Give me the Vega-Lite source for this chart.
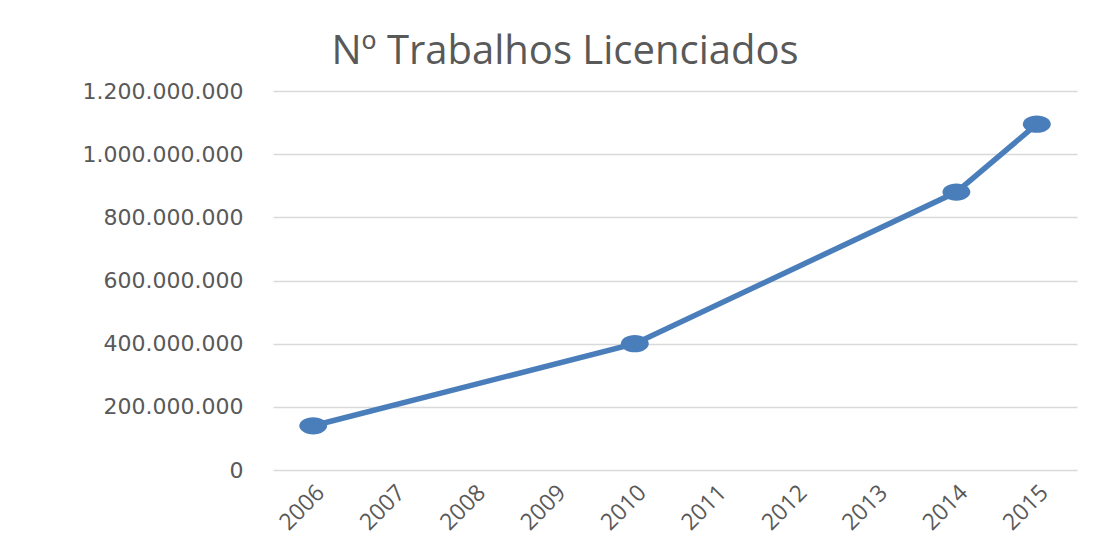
{
  "$schema": "https://vega.github.io/schema/vega-lite/v6.json",
  "autosize": "none",
  "width": 804,
  "height": 379,
  "padding": {"left": 273, "top": 91, "right": 33, "bottom": 68},
  "background": "white",
  "title": {
    "text": "Nº Trabalhos Licenciados",
    "anchor": "middle",
    "frame": "group",
    "dx": -110,
    "fontSize": 40,
    "font": "Open Sans",
    "fontWeight": "normal",
    "color": "#595959",
    "offset": 8
  },
  "config": {
    "view": {"stroke": null},
    "locale": {"number": {"decimal": ",", "thousands": ".", "grouping": [3], "currency": ["€", ""]}}
  },
  "data": {
    "values": [
      {"ano": "2006", "valor": 140000000},
      {"ano": "2010", "valor": 400000000},
      {"ano": "2014", "valor": 880000000},
      {"ano": "2015", "valor": 1095000000}
    ]
  },
  "encoding": {
    "x": {
      "field": "ano",
      "type": "ordinal",
      "scale": {
        "type": "band",
        "paddingInner": 0,
        "paddingOuter": 0,
        "domain": ["2006", "2007", "2008", "2009", "2010", "2011", "2012", "2013", "2014", "2015"]
      },
      "axis": {
        "title": null,
        "labelAngle": -45,
        "labelFontSize": 23,
        "labelFont": "Open Sans",
        "labelColor": "#595959",
        "ticks": false,
        "domain": false,
        "labelPadding": 11
      }
    },
    "y": {
      "field": "valor",
      "type": "quantitative",
      "scale": {"domain": [0, 1200000000]},
      "axis": {
        "title": null,
        "values": [0, 200000000, 400000000, 600000000, 800000000, 1000000000, 1200000000],
        "format": ",d",
        "labelFontSize": 22,
        "labelFont": "DejaVu Sans",
        "labelColor": "#595959",
        "ticks": false,
        "domain": false,
        "labelPadding": 30,
        "gridColor": "#d9d9d9",
        "gridWidth": 1.5
      }
    }
  },
  "layer": [
    {
      "mark": {"type": "line", "color": "#4a7ebb", "strokeWidth": 5.5}
    },
    {
      "mark": {
        "type": "point",
        "filled": true,
        "opacity": 1,
        "color": "#4a7ebb",
        "size": 780,
        "shape": "M -1 0 A 1 0.62 0 1 0 1 0 A 1 0.62 0 1 0 -1 0 Z"
      }
    }
  ]
}
